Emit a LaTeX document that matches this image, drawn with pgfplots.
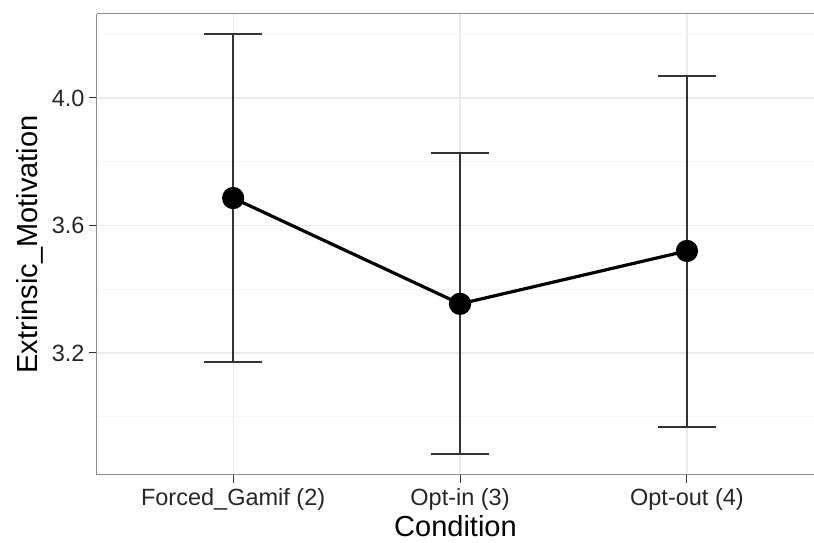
\documentclass[border=0pt]{standalone}
\usepackage{pgfplots}
\usepackage{pgfplotstable}
\pgfplotsset{compat=1.18}
\usepackage{fontspec}
\setmainfont{Liberation Sans}
\definecolor{gridmaj}{HTML}{EBEBEB}
\definecolor{gridmin}{HTML}{F5F5F5}
\definecolor{border}{HTML}{8C8C8C}
\definecolor{tickc}{HTML}{333333}
\pgfplotstableread{
x y ep em
1 3.686 0.515 0.514
2 3.354 0.473 0.471
3 3.520 0.549 0.552
}\datatable
\begin{document}
\begin{tikzpicture}[x=1pt,y=1pt]
\begin{axis}[
  at={(0pt,0pt)}, anchor=south west,
  scale only axis, width=717pt, height=461pt,
  xmin=0.4, xmax=3.56,
  ymin=2.817, ymax=4.2635,
  axis x line=box, axis y line=left,
  axis line style={border, line width=1pt, -},
  xtick={1,2,3},
  xticklabels={Forced\_Gamif (2), Opt-in (3), Opt-out (4)},
  ytick={3.2,3.6,4.0},
  yticklabels={3.2,3.6,4.0},
  minor ytick={3.0,3.4,3.8,4.2},
  xtick pos=bottom, ytick pos=left,
  tick align=outside,
  major tick length=8pt,
  tick style={tickc, line width=1pt},
  minor tick length=0pt,
  grid=both,
  major grid style={gridmaj, line width=1.2pt},
  minor grid style={gridmin, line width=0.8pt},
  ticklabel style={font=\fontsize{23.5}{27}\selectfont, text=black!85},
  /pgf/number format/assume math mode=true,
  xticklabel style={yshift=-2pt},
  yticklabel style={xshift=-1pt},
  xlabel={Condition},
  ylabel={Extrinsic\_Motivation},
  every axis x label/.style={at={(axis description cs:0.5,0)}, anchor=base, yshift=-62pt, font=\fontsize{29}{34}\selectfont},
  every axis y label/.style={at={(axis description cs:0,0.5)}, anchor=base, rotate=90, yshift=59pt, font=\fontsize{29}{34}\selectfont},
  clip=false,
]
\addplot[black, line width=3.2pt, mark=*, mark size=9.5pt,
  error bars/.cd, y dir=both, y explicit,
  error bar style={line width=1.3pt, color=tickc},
  error mark options={rotate=90, mark size=29pt, line width=1.3pt, color=tickc}]
  table[x=x, y=y, y error plus=ep, y error minus=em] {\datatable};
\end{axis}
\pgfresetboundingbox
\useasboundingbox (-97pt,-68pt) rectangle (717pt,475pt);
\end{tikzpicture}
\end{document}
